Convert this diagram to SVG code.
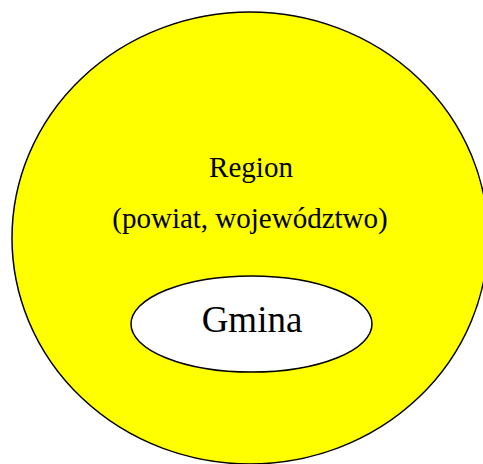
<svg xmlns="http://www.w3.org/2000/svg" width="483" height="464" viewBox="0 0 483 464">
<style>
.lbl{font-family:"Liberation Serif","Times New Roman",serif;fill:#000;text-anchor:middle}
</style>
<rect width="483" height="464" fill="#fff"/>
<g id="region">
<ellipse cx="250" cy="238" rx="238" ry="226" fill="#ffff00" stroke="#000" stroke-width="1.5"/>
<text class="lbl" x="251" y="177" font-size="29">Region</text>
<text class="lbl" x="250" y="228" font-size="29">(powiat, województwo)</text>
</g>
<g id="gmina">
<ellipse cx="251.5" cy="324" rx="120.5" ry="48" fill="#fff" stroke="#000" stroke-width="1.5"/>
<text class="lbl" x="252" y="332" font-size="37">Gmina</text>
</g>
<g id="connectors"/>
</svg>
